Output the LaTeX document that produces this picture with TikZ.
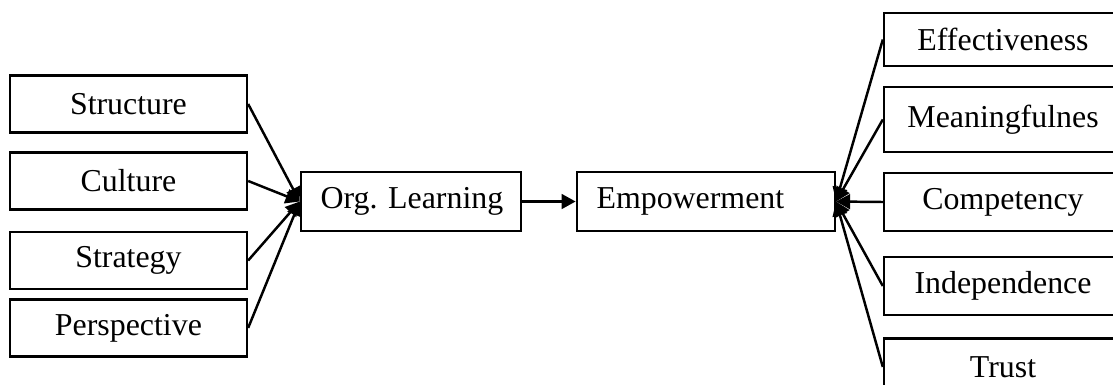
\documentclass[tikz,border=0pt]{standalone}
\usepackage{fontspec}
\setmainfont{Liberation Serif}
\usetikzlibrary{arrows.meta}
\frenchspacing

\begin{document}
\begin{tikzpicture}
	[line width=1pt,every node/.style={draw,rectangle,minimum height=0.81cm,font=\fontsize{12.9}{15}\selectfont},
	 tip/.style={-{Triangle[length=0.2cm,width=0.21cm]}},
	 mbox/.style={minimum height=0.84cm,inner xsep=0pt,align=left,execute at begin node={\hspace*{0.28cm}}},
	 rbox/.style={anchor=west,minimum width=4.384cm,execute at end node={\hspace*{1cm}}}]
	\useasboundingbox (0,0) rectangle (15.83,5.475);
	% left column
	\node[minimum width=3.37cm] (str) at (1.827,3.996) {Structure};
	\node[minimum width=3.37cm] (cul) at (1.827,2.901) {Culture};
	\node[minimum width=3.37cm] (stg) at (1.827,1.770) {Strategy};
	\node[minimum width=3.37cm] (per) at (1.827,0.811) {Perspective};
	% middle
	\node[mbox,text width=3.128cm] (org) at (5.844,2.609) {Org. Learning};
	\node[mbox,text width=3.669cm] (emp) at (10.039,2.609) {Empowerment};
	% right column, running off the page
	\node[rbox,minimum height=0.754cm] (eff) at (12.556,4.913) {Effectiveness};
	\node[rbox,minimum height=0.924cm] (mea) at (12.556,3.775) {Meaningfulnes};
	\node[rbox,minimum height=0.825cm] (com) at (12.556,2.602) {Competency};
	\node[rbox,minimum height=0.825cm] (ind) at (12.556,1.408) {Independence};
	\node[rbox] (tru) at (12.556,0.256) {Trust};

	\foreach \from in {str,cul,stg,per}
	\draw[tip] (\from.east) -- (org.west);
	\draw[tip] (org) -- (emp);
	\foreach \from in {eff,mea,com,ind,tru}
	\draw[tip] (\from.west) -- (emp.east);
\end{tikzpicture}
\end{document}
